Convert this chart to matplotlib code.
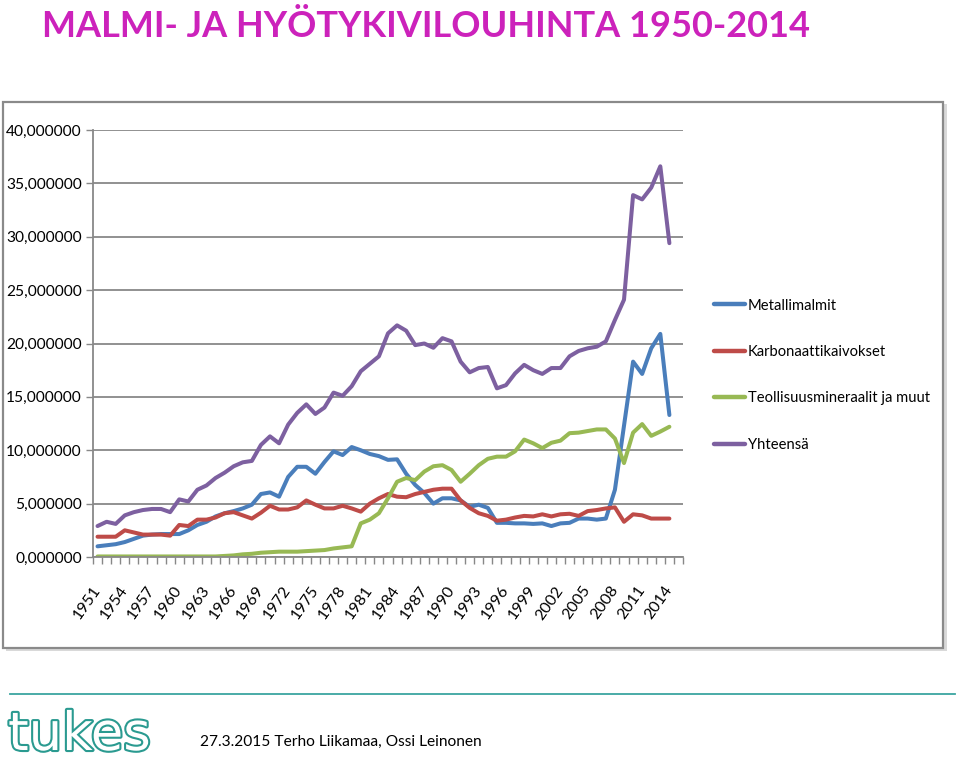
import matplotlib
matplotlib.use("Agg")
import matplotlib.pyplot as plt
import matplotlib.patheffects as pe
from matplotlib.patches import Rectangle
import numpy as np

years = list(range(1951, 2015))

metallimalmit = [1.0, 1.1, 1.2, 1.4, 1.7, 2.0, 2.1, 2.15, 2.15, 2.15,
                 2.5, 3.0, 3.3, 3.8, 4.1, 4.3, 4.55, 4.9, 5.9, 6.05,
                 5.65, 7.5, 8.45, 8.45, 7.8, 8.9, 9.9, 9.55, 10.3, 10.0,
                 9.65, 9.45, 9.1, 9.15, 7.8, 6.75, 6.0, 5.0, 5.5, 5.5,
                 5.3, 4.7, 4.9, 4.6, 3.2, 3.2, 3.15, 3.15, 3.1, 3.15,
                 2.9, 3.15, 3.2, 3.6, 3.6, 3.5, 3.6, 6.3, 12.3, 18.3,
                 17.15, 19.55, 20.9, 13.3]

karbonaatti = [1.9, 1.9, 1.9, 2.5, 2.3, 2.1, 2.1, 2.1, 2.0, 3.0,
               2.9, 3.5, 3.5, 3.7, 4.1, 4.2, 3.9, 3.6, 4.15, 4.8,
               4.45, 4.45, 4.65, 5.3, 4.9, 4.55, 4.55, 4.8, 4.55, 4.25,
               5.0, 5.5, 5.9, 5.65, 5.6, 5.9, 6.1, 6.3, 6.4, 6.4,
               5.3, 4.6, 4.1, 3.85, 3.4, 3.5, 3.7, 3.85, 3.8, 4.0,
               3.8, 4.0, 4.05, 3.85, 4.3, 4.4, 4.55, 4.65, 3.3, 4.0,
               3.9, 3.6, 3.6, 3.6]

teollisuus = [0.05, 0.05, 0.05, 0.05, 0.05, 0.05, 0.05, 0.05, 0.05, 0.05,
              0.05, 0.05, 0.05, 0.05, 0.1, 0.15, 0.25, 0.3, 0.4, 0.45,
              0.5, 0.5, 0.5, 0.55, 0.6, 0.65, 0.8, 0.9, 1.0, 3.15,
              3.5, 4.1, 5.5, 7.05, 7.4, 7.2, 8.0, 8.5, 8.6, 8.15,
              7.05, 7.8, 8.6, 9.2, 9.4, 9.4, 9.9, 11.0, 10.65, 10.2,
              10.7, 10.9, 11.6, 11.65, 11.8, 11.95, 11.95, 11.1, 8.8, 11.65,
              12.45, 11.35, 11.75, 12.2]

yhteensa = [2.9, 3.3, 3.1, 3.9, 4.2, 4.4, 4.5, 4.5, 4.2, 5.4,
            5.2, 6.3, 6.7, 7.4, 7.9, 8.5, 8.87, 9.0, 10.5, 11.3,
            10.65, 12.4, 13.5, 14.3, 13.4, 14.0, 15.4, 15.1, 16.0, 17.4,
            18.1, 18.8, 20.95, 21.7, 21.2, 19.85, 20.0, 19.6, 20.5, 20.2,
            18.3, 17.3, 17.7, 17.8, 15.8, 16.1, 17.2, 18.0, 17.5, 17.15,
            17.7, 17.7, 18.8, 19.3, 19.55, 19.7, 20.2, 22.2, 24.1, 33.9,
            33.5, 34.6, 36.6, 29.4]

series = [
    ("Metallimalmit", metallimalmit, "#4a7ebb"),
    ("Karbonaattikaivokset", karbonaatti, "#be4b48"),
    ("Teollisuusmineraalit ja muut", teollisuus, "#98b954"),
    ("Yhteensä", yhteensa, "#7d60a0"),
]

yticks = np.arange(0, 41, 5)
ytick_labels = ["%d,000000" % v for v in yticks]

plt.rcParams['font.family'] = ['Lato', 'DejaVu Sans']

fig = plt.figure(figsize=(9.6, 7.6), dpi=100)

# chart frame with a light shadow
fig.patches.append(Rectangle((6 / 960, 1 - 651 / 760), 941 / 960, 547 / 760,
                             transform=fig.transFigure, facecolor="#d9d9d9",
                             edgecolor="none", zorder=-2))
fig.patches.append(Rectangle((3 / 960, 1 - 648 / 760), 940 / 960, 546 / 760,
                             transform=fig.transFigure, facecolor="white",
                             edgecolor="#8a8a8a", linewidth=1.6, zorder=-1))

ax = fig.add_axes([93 / 960, 1 - 557 / 760, 590 / 960, 427 / 760])
ax.set_zorder(2)
ax.set_facecolor("none")

x = np.arange(len(years))
for name, vals, col in series:
    ax.plot(x, vals, color=col, linewidth=2.9, label=name,
            solid_joinstyle="round", solid_capstyle="round")

ax.set_xlim(-0.5, len(years) + 0.5)
ax.set_ylim(0, 40)
ax.set_yticks(yticks)
ax.set_yticklabels(ytick_labels, fontsize=11.2)
ax.yaxis.grid(True, color="#888888", linewidth=1.3)
ax.set_axisbelow(True)

lab_pos = x[::3]
ax.set_xticks(lab_pos)
ax.set_xticklabels([str(years[i]) for i in lab_pos], rotation=55,
                   ha="right", va="center", rotation_mode="anchor", fontsize=11.5)
ax.tick_params(axis="x", which="major", length=0, pad=22)
ax.set_xticks(np.arange(-0.5, len(years) + 1.0, 1.0), minor=True)
ax.tick_params(axis="x", which="minor", length=5, color="#888888", width=1)
ax.tick_params(axis="y", length=5, color="#888888", width=1, pad=3)

for s in ["top", "right"]:
    ax.spines[s].set_visible(False)
ax.spines["left"].set_color("#888888")
ax.spines["bottom"].set_color("#888888")
ax.spines["left"].set_linewidth(1.3)
ax.spines["bottom"].set_linewidth(1.3)

leg = ax.legend(loc="center left", bbox_to_anchor=(1.0525, 0.426), frameon=False,
                fontsize=10.6, handlelength=2.1, handletextpad=0.2,
                labelspacing=2.2, borderaxespad=0, borderpad=0)
for line in leg.get_lines():
    line.set_linewidth(3.2)

fig.text(42 / 960, 1 - 37 / 760, "MALMI- JA HYÖTYKIVILOUHINTA 1950-2014",
         fontsize=26, fontweight="bold", color="#cc22bb", va="baseline")

# footer
fig.add_artist(plt.Line2D([10 / 960, 955 / 960], [1 - 694 / 760, 1 - 694 / 760],
                          transform=fig.transFigure, color="#3aa5a0", linewidth=1.3))
fig.text(8 / 960, 1 - 750 / 760, "tukes", fontsize=38, color="white",
         family="DejaVu Sans", va="baseline",
         path_effects=[pe.withStroke(linewidth=3, foreground="#2a9a90")])
fig.text(200 / 960, 1 - 746 / 760, "27.3.2015 Terho Liikamaa, Ossi Leinonen",
         fontsize=11.2, color="black", va="baseline")

fig.savefig("out.png", dpi=100)
